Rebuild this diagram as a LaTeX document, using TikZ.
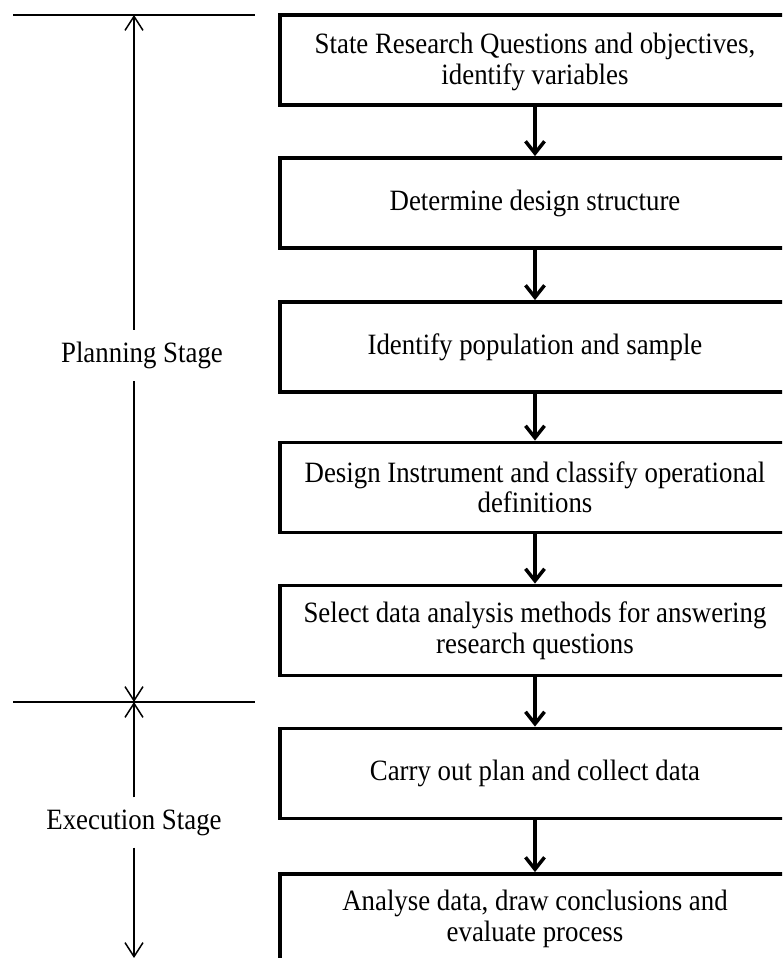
\documentclass[tikz,border=0pt]{standalone}
\usepackage{fontspec}
\setmainfont[FakeStretch=0.91]{Liberation Serif}
\usetikzlibrary{arrows.meta}
\begin{document}
\begin{tikzpicture}[x=1pt,y=-1pt,
  txt/.style={font=\fontsize{29.5}{30.5}\selectfont},
  stepbox/.style={txt, draw, line width=3.8pt, minimum width=510pt, minimum height=90pt,
    align=center, inner sep=0pt},
  flow/.style={line width=3.5pt, -{Straight Barb[length=12pt,width=19pt]}},
  stagelabel/.style={txt, inner xsep=0pt, inner ysep=12pt},
  span/.style={line width=1.5pt, -{Straight Barb[length=14pt,width=18pt]}},
  divider/.style={line width=1.5pt}]
\clip (0,0) rectangle (782,958);
\fill[white] (0,0) rectangle (782,958);

% process steps
\node[stepbox] (s1) at (535,60)    {\rule{0pt}{24pt}State Research Questions and objectives,\\identify variables};
\node[stepbox] (s2) at (535,203)   {Determine design structure};
\node[stepbox] (s3) at (535,347)   {Identify population and sample};
\node[stepbox] (s4) at (535,487.5) {Design Instrument and classify operational\\definitions};
\node[stepbox] (s5) at (535,630.5) {Select data analysis methods for answering\\research questions};
\node[stepbox] (s6) at (535,773.5) {Carry out plan and collect data};
\node[stepbox] (s7) at (535,919)   {Analyse data, draw conclusions and\\evaluate process};

\draw[flow] (s1) -- (s2);
\draw[flow] (s2) -- (s3);
\draw[flow] (s3) -- (s4);
\draw[flow] (s4) -- (s5);
\draw[flow] (s5) -- (s6);
\draw[flow] (s6) -- (s7);

% stage dividers
\coordinate (d1l) at (13,15);
\coordinate (d1r) at (255,15);
\coordinate (d2l) at (13,702);
\coordinate (d2r) at (255,702);
\draw[divider] (d1l) -- (d1r);
\draw[divider] (d2l) -- (d2r);

% stage spans
\coordinate (planTop) at (134,15);
\coordinate (planEnd) at (134,702);
\coordinate (execEnd) at (134,958);
\node[stagelabel] (plan) at (142,355.5) {Planning Stage};
\node[stagelabel] (exec) at (134,822.5) {Execution Stage};
\draw[span] (plan.north -| planTop) -- (planTop);
\draw[span] (plan.south -| planTop) -- (planEnd);
\draw[span] (exec) -- (planEnd);
\draw[span] (exec) -- (execEnd);
\end{tikzpicture}
\end{document}
